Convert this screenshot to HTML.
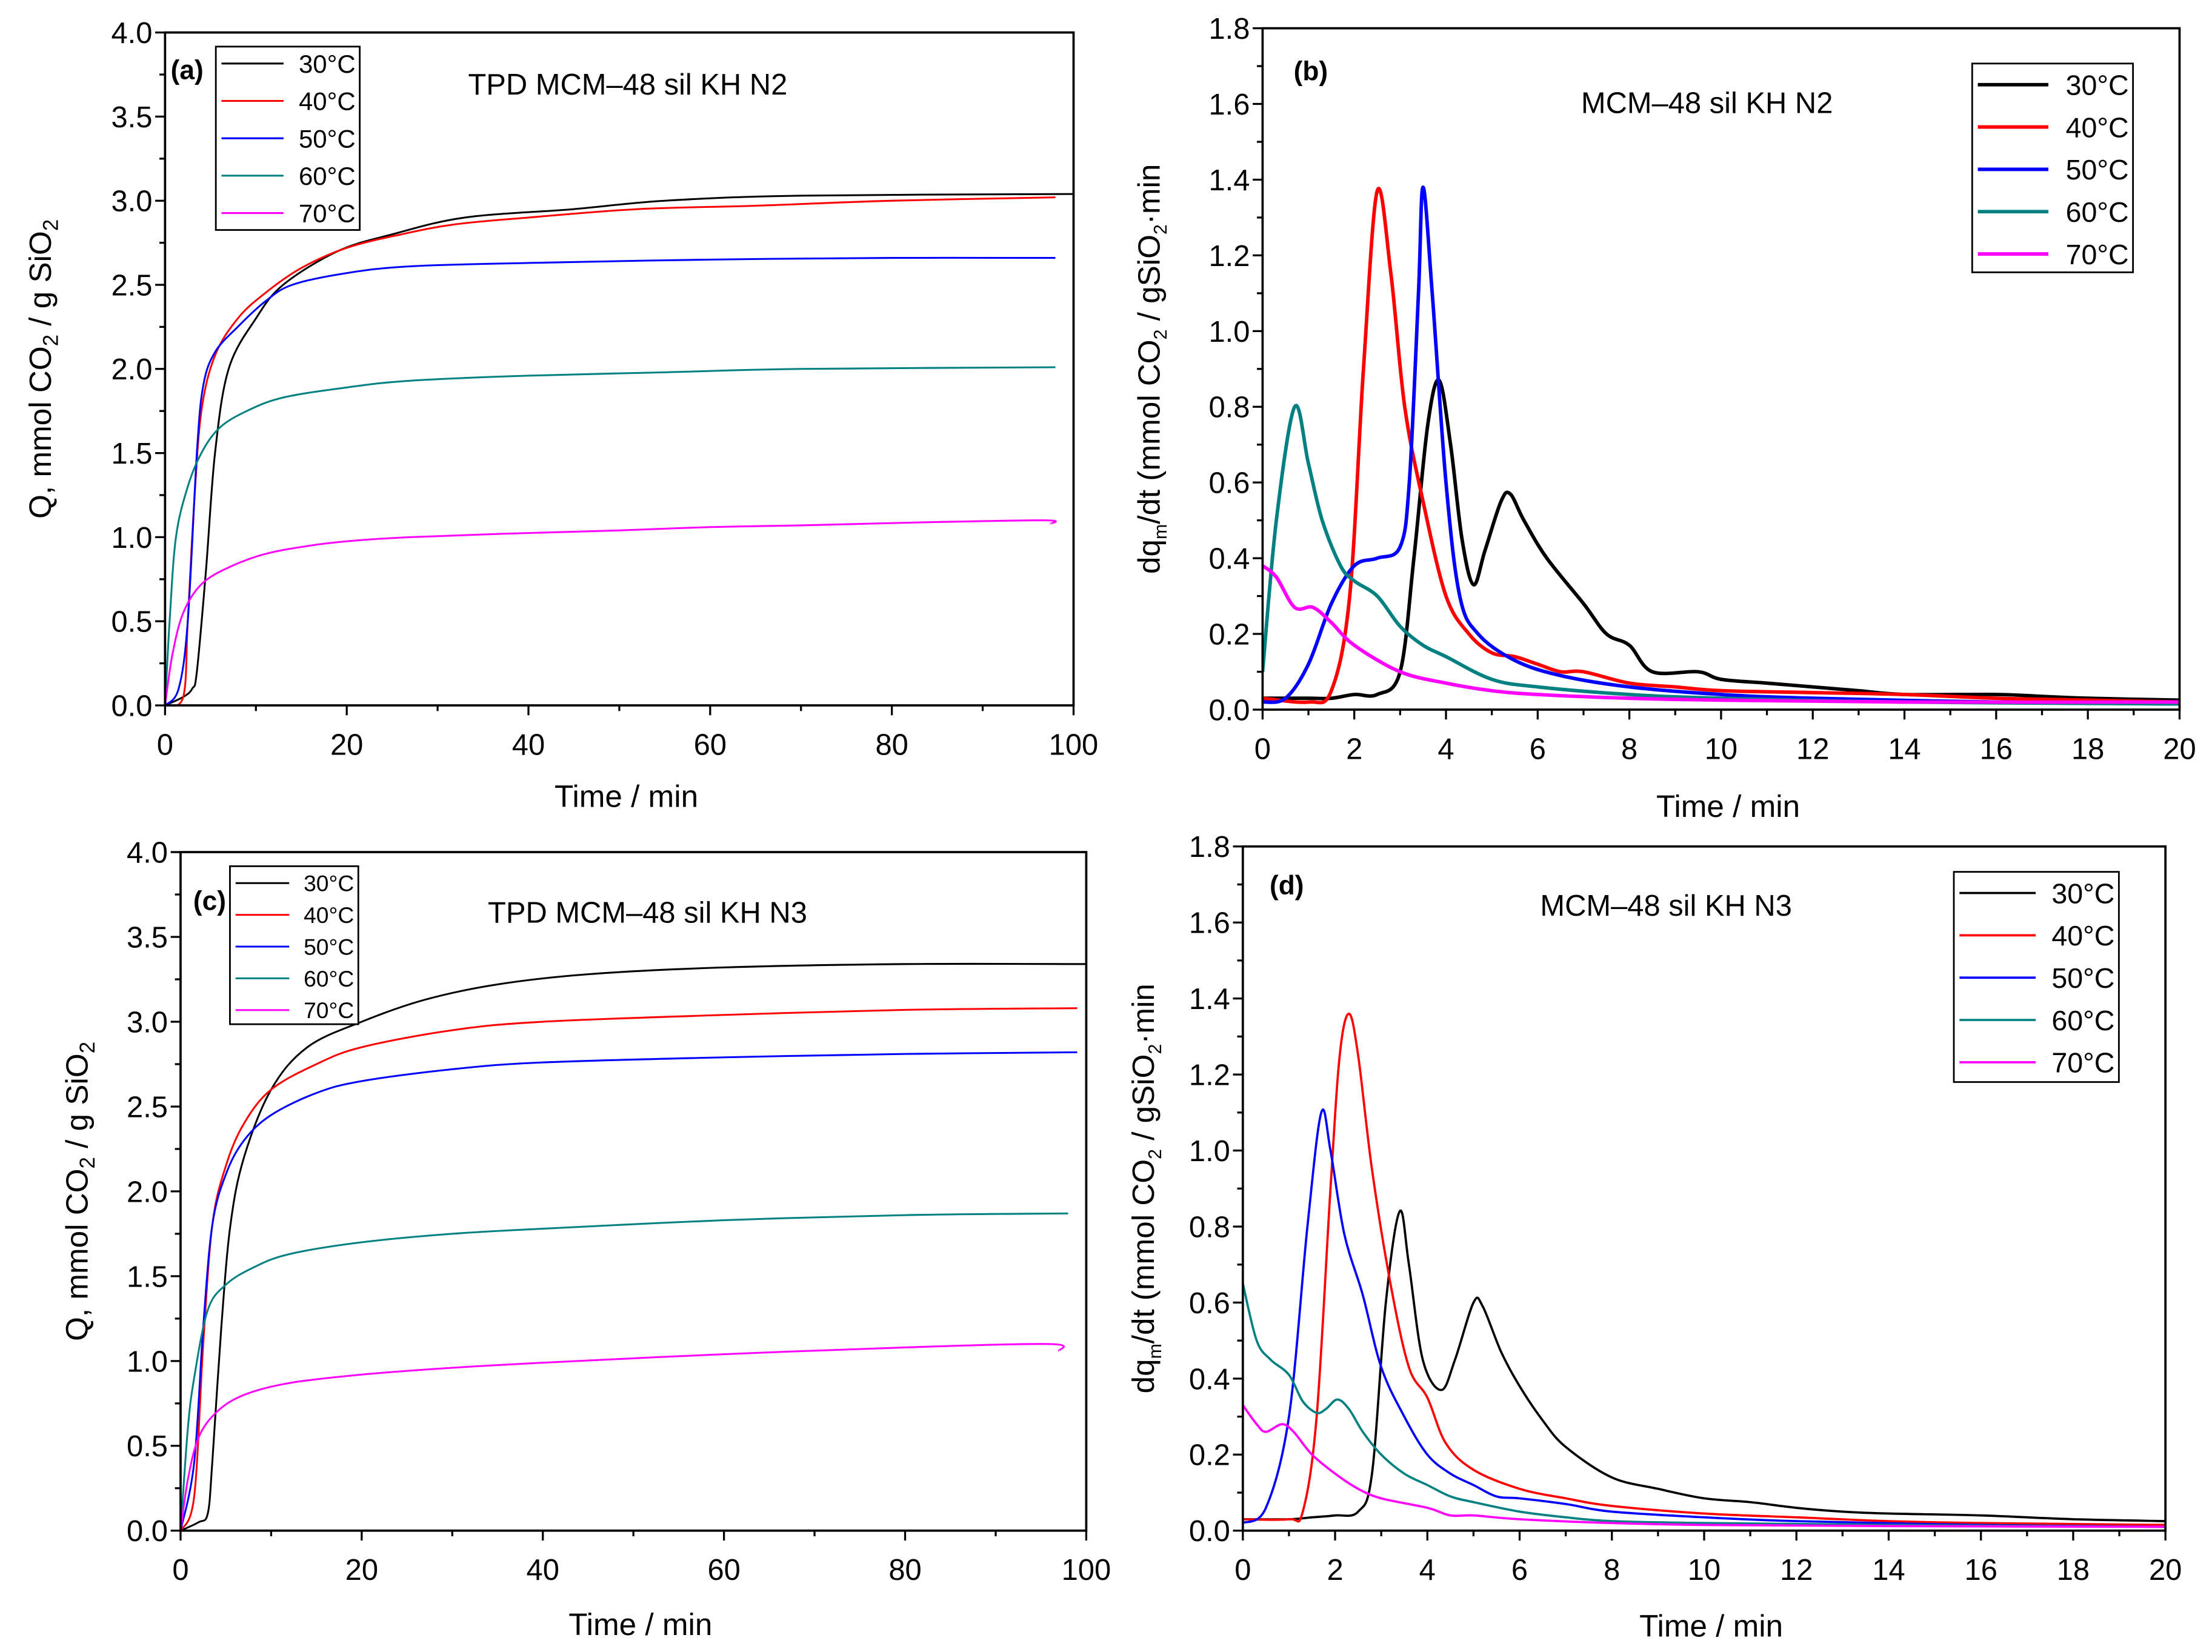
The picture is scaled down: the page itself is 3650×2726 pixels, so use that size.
<!DOCTYPE html>
<html><head><meta charset="utf-8"><style>
html,body{margin:0;padding:0;background:#fff}
svg{display:block}
text{font-family:"Liberation Sans",sans-serif;fill:#000}
</style></head><body>
<svg id="fig" width="3650" height="2726" viewBox="0 0 1568 1171" xmlns="http://www.w3.org/2000/svg"></svg>
<script>
const series = ["30°C","40°C","50°C","60°C","70°C"];
const colors = ["#000000","#ff0000","#0000ff","#008080","#ff00ff"];
// Panel (a) time/value arrays
const aT30=[0,2,3,3.5,4.5,5.5,7,10,13,19,25,33,45,55,70,100];
const aV30=[0,0.05,0.1,0.2,0.8,1.5,2.0,2.3,2.5,2.7,2.8,2.9,2.95,3.0,3.03,3.04];
const aT40=[0,2,2.5,3.2,4,5.5,8,11,15,20,26,32,40,52,65,80,98];
const aV40=[0,0.05,0.5,1.2,1.75,2.08,2.3,2.45,2.6,2.72,2.8,2.86,2.9,2.95,2.97,3.0,3.02];
const aT50=[0,1.5,2.5,3.5,4.2,5.5,8,11,14,20,27,40,60,80,98];
const aV50=[0,0.1,0.5,1.5,1.9,2.1,2.25,2.4,2.5,2.57,2.61,2.63,2.65,2.66,2.66];
const aT60=[0,0.5,1.2,2.5,4,6,9,13,20,27,40,55,70,98];
const aV60=[0,0.5,1.0,1.3,1.5,1.65,1.75,1.83,1.89,1.93,1.96,1.98,2.0,2.01];
const aT70=[0,0.8,2,4,7,11,16,21,27,37,50,60,70,85,97,97.5];
const aV70=[0,0.3,0.55,0.72,0.82,0.9,0.95,0.98,1.0,1.02,1.04,1.06,1.07,1.09,1.1,1.08];
// Panel (c)
const cT30=[0,2,3,3.5,4.5,5.5,7,10,14,20,27,35,45,60,80,100];
const cV30=[0,0.05,0.1,0.4,1.2,1.8,2.2,2.6,2.85,3.0,3.13,3.22,3.28,3.32,3.34,3.34];
const cT40=[0,1.5,2.5,3.5,5,7,10,15,20,30,40,60,80,99];
const cV40=[0,0.2,1.1,1.8,2.15,2.4,2.6,2.75,2.85,2.95,3.0,3.04,3.07,3.08];
const cT50=[0,1.5,2.5,3.5,5,7,10,15,20,30,40,60,80,99];
const cV50=[0,0.4,1.2,1.8,2.1,2.3,2.45,2.58,2.65,2.72,2.76,2.79,2.81,2.82];
const cT60=[0,0.8,1.5,3,5,8,12,20,30,40,60,80,98];
const cV60=[0,0.6,0.9,1.3,1.45,1.55,1.63,1.7,1.75,1.78,1.83,1.86,1.87];
const cT70=[0,0.8,2,4,7,12,20,30,40,60,80,96,97];
const cV70=[0,0.3,0.55,0.7,0.8,0.87,0.92,0.96,0.99,1.04,1.08,1.1,1.06];
// Panel (b)
const bT30=[0,1,1.5,2,2.5,3,3.3,3.6,3.85,4.1,4.35,4.6,4.85,5.2,5.4,5.7,6.2,7,7.5,8,8.5,9.5,10,11,12,13,14,16,17,18,20];
const bV30=[0.03,0.03,0.03,0.04,0.04,0.1,0.4,0.75,0.87,0.7,0.45,0.33,0.42,0.55,0.57,0.5,0.4,0.28,0.2,0.17,0.1,0.1,0.08,0.07,0.06,0.05,0.04,0.04,0.035,0.03,0.025];
const bT40=[0,1,1.5,1.9,2.2,2.5,2.8,3.1,3.5,4,4.5,5,5.5,6,6.5,7,8,9,10,12,14,16,18,20];
const bV40=[0.03,0.02,0.05,0.3,0.9,1.37,1.15,0.8,0.55,0.3,0.2,0.15,0.14,0.12,0.1,0.1,0.07,0.06,0.05,0.045,0.04,0.03,0.025,0.02];
const bT50=[0,0.5,1,1.5,2,2.5,3,3.2,3.4,3.5,3.7,4,4.3,4.7,5.5,6.5,8,10,12,16,20];
const bV50=[0.02,0.03,0.12,0.28,0.38,0.4,0.43,0.6,1.1,1.38,1.1,0.6,0.3,0.2,0.13,0.09,0.06,0.04,0.03,0.02,0.015];
const bT60=[0,0.3,0.7,1,1.3,1.7,2,2.5,3,3.5,4,5,6,8,10,14,20];
const bV60=[0.1,0.5,0.8,0.65,0.5,0.38,0.34,0.3,0.22,0.17,0.14,0.08,0.06,0.04,0.03,0.02,0.015];
const bT70=[0,0.3,0.7,1.1,1.5,2,3,4,5,6,8,10,14,20];
const bV70=[0.38,0.35,0.27,0.27,0.23,0.17,0.1,0.07,0.05,0.04,0.03,0.025,0.02,0.02];
// Panel (d)
const dT30=[0,1,1.5,2,2.5,2.8,3.1,3.4,3.6,3.9,4.3,4.6,5,5.2,5.6,6,6.5,7,8,9,10,11,12,13,14,16,18,20];
const dV30=[0.03,0.03,0.035,0.04,0.05,0.15,0.6,0.84,0.7,0.45,0.37,0.45,0.6,0.59,0.47,0.38,0.29,0.22,0.14,0.11,0.085,0.075,0.06,0.05,0.045,0.04,0.03,0.025];
const dT40=[0,1,1.3,1.6,1.9,2.1,2.3,2.5,2.8,3.2,3.6,4,4.4,5,6,7,8,10,12,14,16,20];
const dV40=[0.03,0.03,0.05,0.3,0.9,1.25,1.36,1.25,0.95,0.65,0.43,0.35,0.23,0.16,0.11,0.085,0.065,0.045,0.035,0.025,0.02,0.015];
const dT50=[0,0.5,1,1.4,1.7,1.9,2.2,2.6,3,3.5,4,4.5,5,5.5,6,7,8,10,12,16,20];
const dV50=[0.02,0.06,0.3,0.8,1.1,1.0,0.78,0.62,0.43,0.3,0.2,0.15,0.12,0.09,0.085,0.07,0.05,0.035,0.025,0.015,0.01];
const dT60=[0,0.3,0.6,1,1.3,1.6,1.8,2.05,2.3,2.6,3,3.5,4,4.5,5,6,7,8,10,14,20];
const dV60=[0.65,0.5,0.45,0.41,0.34,0.31,0.32,0.345,0.32,0.26,0.2,0.15,0.12,0.09,0.075,0.05,0.035,0.025,0.02,0.015,0.01];
const dT70=[0,0.3,0.5,0.85,1.1,1.5,2,2.5,3,4,4.5,5,6,8,10,14,20];
const dV70=[0.33,0.28,0.26,0.28,0.26,0.2,0.15,0.11,0.085,0.06,0.04,0.04,0.03,0.02,0.015,0.012,0.01];

const NS="http://www.w3.org/2000/svg";
const svg=document.getElementById('fig');
function mk(tag,attrs,parent){const e=document.createElementNS(NS,tag);for(const k in attrs)e.setAttribute(k,attrs[k]);(parent||svg).appendChild(e);return e;}
function smoothPath(pts){
  let d="M"+pts[0][0].toFixed(2)+","+pts[0][1].toFixed(2);
  for(let i=0;i<pts.length-1;i++){
    const p0=pts[i-1]||pts[i],p1=pts[i],p2=pts[i+1],p3=pts[i+2]||p2;
    const c1=[p1[0]+(p2[0]-p0[0])/6,p1[1]+(p2[1]-p0[1])/6];
    const c2=[p2[0]-(p3[0]-p1[0])/6,p2[1]-(p3[1]-p1[1])/6];
    d+=" C"+c1[0].toFixed(2)+","+c1[1].toFixed(2)+" "+c2[0].toFixed(2)+","+c2[1].toFixed(2)+" "+p2[0].toFixed(2)+","+p2[1].toFixed(2);
  }
  return d;
}
function panel(cfg){
  const g=mk('g',{});
  
  
  const X=v=>cfg.x0+(v-cfg.xmin)/(cfg.xmax-cfg.xmin)*(cfg.x1-cfg.x0);
  const Y=v=>cfg.y0-(v-cfg.ymin)/(cfg.ymax-cfg.ymin)*(cfg.y0-cfg.y1);
  const cg=mk('g',{'clip-path':'url(#clip'+cfg.id+')'},g);
  const cp=mk('clipPath',{id:'clip'+cfg.id},g);
  mk('rect',{x:cfg.x0,y:cfg.y1,width:cfg.x1-cfg.x0,height:cfg.y0-cfg.y1},cp);
  cfg.data.forEach((s,i)=>{
    const pts=s[0].map((t,j)=>[X(t),Y(s[1][j])]);
    const p=mk('path',{d:smoothPath(pts),fill:'none',stroke:colors[i],'stroke-width':cfg.lw,'stroke-linejoin':'round'},cg);
    
    
  });
  const fr=mk('rect',{x:cfg.x0,y:cfg.y1,width:cfg.x1-cfg.x0,height:cfg.y0-cfg.y1,fill:'none',stroke:'#000','stroke-width':1.6},g);
  
  
  const xa=mk('g',{},g);
  
  
  for(let v=cfg.xmin;v<=cfg.xmax+1e-9;v+=cfg.xminor){
    const major=Math.abs(v/cfg.xmajor-Math.round(v/cfg.xmajor))<1e-6;
    mk('line',{x1:X(v),x2:X(v),y1:cfg.y0,y2:cfg.y0+(major?7:4),stroke:'#000','stroke-width':1.4},xa);
    if(major){const t=mk('text',{x:X(v),y:cfg.y0+35,'font-size':21,'text-anchor':'middle'},xa);t.textContent=String(Math.round(v));}
  }
  for(let v=cfg.ymin;v<=cfg.ymax+1e-9;v+=cfg.yminor){
    const major=Math.abs(v/cfg.ymajor-Math.round(v/cfg.ymajor))<1e-6;
    mk('line',{x1:cfg.x0,x2:cfg.x0-(major?7:4),y1:Y(v),y2:Y(v),stroke:'#000','stroke-width':1.4},xa);
    if(major){const t=mk('text',{x:cfg.x0-9,y:Y(v)+7.5,'font-size':21,'text-anchor':'end'},xa);t.textContent=v.toFixed(1);}
  }
  const xt=mk('text',{x:(cfg.x0+cfg.x1)/2+5,y:cfg.xty,'font-size':22,'text-anchor':'middle'},g);
  xt.textContent='Time / min';
  
  
  const yt=mk('text',{x:0,y:0,'font-size':22,'text-anchor':'middle',transform:'translate('+cfg.ytx+','+((cfg.y0+cfg.y1)/2)+') rotate(-90)'},g);
  yt.innerHTML=cfg.ytitle;
  
  
  const lb=mk('text',{x:cfg.lab[0],y:cfg.lab[1],'font-size':19,'font-weight':'bold'},g);
  lb.textContent='('+cfg.id+')';
  
  
  const ti=mk('text',{x:cfg.title[0],y:cfg.title[1],'font-size':21,'text-anchor':'middle'},g);
  ti.textContent=cfg.title[2];
  
  
  const L=cfg.leg;
  const lg=mk('g',{},g);
  
  
  mk('rect',{x:L.x,y:L.y,width:L.w,height:L.h,fill:'#fff',stroke:'#000','stroke-width':1.2},lg);
  series.forEach((s,i)=>{
    const ry=L.y+L.first+i*L.dy;
    const e=mk('g',{},lg);
    
    
    mk('line',{x1:L.x+4,x2:L.x+4+L.ll,y1:ry,y2:ry,stroke:colors[i],'stroke-width':cfg.lw},e);
    const t=mk('text',{x:L.x+L.w-3,y:ry+L.fs*0.36,'font-size':L.fs,'text-anchor':'end'},e);
    t.textContent=s;
  });
}
const ytQ='Q, mmol CO<tspan font-size="15" dy="5">2</tspan><tspan dy="-5"> / g SiO</tspan><tspan font-size="15" dy="5">2</tspan>';
const ytD='dq<tspan font-size="13" dy="5">m</tspan><tspan dy="-5">/dt (mmol CO</tspan><tspan font-size="13" dy="5">2</tspan><tspan dy="-5"> / gSiO</tspan><tspan font-size="13" dy="5">2</tspan><tspan dy="-5">·min</tspan>';
panel({id:'a',x0:117,x1:761,y0:500,y1:23,xmin:0,xmax:100,xmajor:20,xminor:10,ymin:0,ymax:4,ymajor:0.5,yminor:0.25,lw:1.3,
  data:[[aT30,aV30],[aT40,aV40],[aT50,aV50],[aT60,aV60],[aT70,aV70]],xty:572,ytx:36,ytitle:ytQ,lab:[121,56],title:[445,67,'TPD MCM–48 sil KH N2'],
  leg:{x:153,y:33,w:102,h:130,first:12,dy:26.5,ll:44,fs:18}});
panel({id:'b',x0:895,x1:1545,y0:503,y1:20,xmin:0,xmax:20,xmajor:2,xminor:1,ymin:0,ymax:1.8,ymajor:0.2,yminor:0.1,lw:2.5,
  data:[[bT30,bV30],[bT40,bV40],[bT50,bV50],[bT60,bV60],[bT70,bV70]],xty:579,ytx:822,ytitle:ytD,lab:[917,57],title:[1210,80,'MCM–48 sil KH N2'],
  leg:{x:1398,y:45,w:114,h:148,first:15,dy:30,ll:50,fs:20}});
panel({id:'c',x0:128,x1:770,y0:1085,y1:604,xmin:0,xmax:100,xmajor:20,xminor:10,ymin:0,ymax:4,ymajor:0.5,yminor:0.25,lw:1.3,
  data:[[cT30,cV30],[cT40,cV40],[cT50,cV50],[cT60,cV60],[cT70,cV70]],xty:1159,ytx:62,ytitle:ytQ,lab:[137,645],title:[459,654,'TPD MCM–48 sil KH N3'],
  leg:{x:163,y:614,w:91,h:112,first:12,dy:22.5,ll:38,fs:16}});
panel({id:'d',x0:881,x1:1535,y0:1085,y1:600,xmin:0,xmax:20,xmajor:2,xminor:1,ymin:0,ymax:1.8,ymajor:0.2,yminor:0.1,lw:1.6,
  data:[[dT30,dV30],[dT40,dV40],[dT50,dV50],[dT60,dV60],[dT70,dV70]],xty:1160,ytx:818,ytitle:ytD,lab:[900,634],title:[1181,649,'MCM–48 sil KH N3'],
  leg:{x:1385,y:618,w:117,h:149,first:15,dy:30,ll:54,fs:20}});
</script>
</body></html>
